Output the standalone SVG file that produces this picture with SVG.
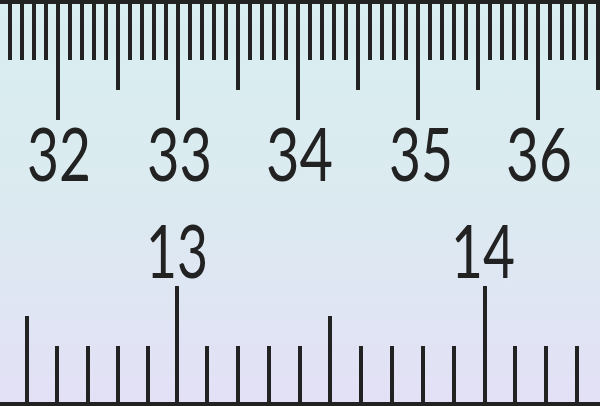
<svg xmlns="http://www.w3.org/2000/svg" width="600" height="406" viewBox="0 0 600 406">
  <defs>
    <linearGradient id="bg" x1="0" y1="0" x2="0" y2="1">
      <stop offset="0" stop-color="#d9eef1"/>
      <stop offset="0.45" stop-color="#dbebf0"/>
      <stop offset="1" stop-color="#e3e0f6"/>
    </linearGradient>
  </defs>
  <style>
    .tick { stroke: #222222; stroke-width: 4; fill: none; }
    .bar { fill: #222222; }
    .lbl { font-family: Lato, "DejaVu Sans", sans-serif; font-size: 74px; fill: #222222; text-anchor: middle; }
  </style>
  <rect x="0" y="0" width="600" height="406" fill="url(#bg)"/>
  <g id="cm-scale">
    <rect class="bar" x="0" y="0" width="600" height="4"/>
    <path class="tick" d="M10 4V60M22 4V60M34 4V60M46 4V60M70 4V60M82 4V60M94 4V60M106 4V60M130 4V60M142 4V60M154 4V60M166 4V60M190 4V60M202 4V60M214 4V60M226 4V60M250 4V60M262 4V60M274 4V60M286 4V60M310 4V60M322 4V60M334 4V60M346 4V60M370 4V60M382 4V60M394 4V60M406 4V60M430 4V60M442 4V60M454 4V60M466 4V60M490 4V60M502 4V60M514 4V60M526 4V60M550 4V60M562 4V60M574 4V60M586 4V60"/>
    <path class="tick" d="M118 4V90M238 4V90M358 4V90M478 4V90M598 4V90"/>
    <path class="tick" d="M58 4V120M178 4V120M298 4V120M418 4V120M538 4V120"/>
    <text class="lbl" x="59" y="181" textLength="64" lengthAdjust="spacingAndGlyphs">32</text>
    <text class="lbl" x="179.5" y="181" textLength="65" lengthAdjust="spacingAndGlyphs">33</text>
    <text class="lbl" x="299.5" y="181" textLength="67" lengthAdjust="spacingAndGlyphs">34</text>
    <text class="lbl" x="421" y="181" textLength="64" lengthAdjust="spacingAndGlyphs">35</text>
    <text class="lbl" x="539" y="181" textLength="66" lengthAdjust="spacingAndGlyphs">36</text>
  </g>
  <g id="inch-scale">
    <rect class="bar" x="0" y="402" width="600" height="4"/>
    <path class="tick" d="M57 346V402M88 346V402M118 346V402M148 346V402M207 346V402M238 346V402M269 346V402M300 346V402M361 346V402M392 346V402M423 346V402M454 346V402M515 346V402M546 346V402M577 346V402"/>
    <path class="tick" d="M27 316V402M330 316V402"/>
    <path class="tick" d="M177 286V402M485 286V402"/>
    <text class="lbl" x="177" y="278" textLength="62" lengthAdjust="spacingAndGlyphs">13</text>
    <text class="lbl" x="483" y="278" textLength="64" lengthAdjust="spacingAndGlyphs">14</text>
  </g>
</svg>
